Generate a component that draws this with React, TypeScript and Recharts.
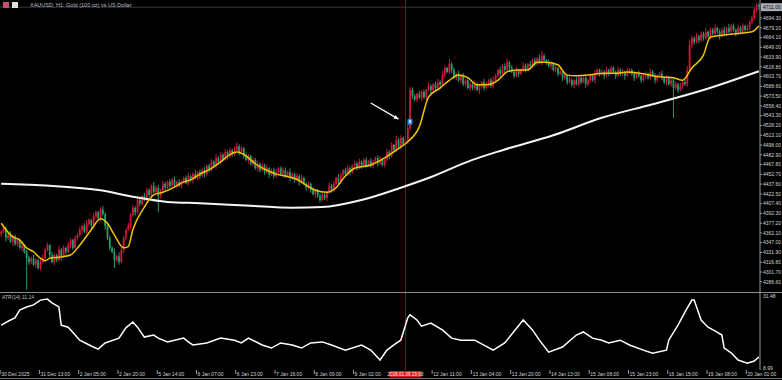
import React from 'react';
import {
  ComposedChart,
  Bar,
  Line,
  XAxis,
  YAxis,
  ReferenceLine,
  ReferenceDot
} from 'recharts';

// hourly closes, XAUUSD H1
const closes = [
  4364, 4370, 4354, 4359, 4348, 4357, 4345, 4351, 4339, 4343, 4333, 4323, 4317, 4323, 4313, 4320, 4308, 4317, 4323, 4336,
  4343, 4328, 4317, 4328, 4320, 4336, 4326, 4339, 4333, 4343, 4351, 4339, 4354, 4359, 4367, 4373, 4364, 4376, 4382, 4374,
  4388, 4394, 4385, 4398, 4391, 4373, 4354, 4339, 4333, 4320, 4326, 4317, 4336, 4354, 4367, 4373, 4390, 4401, 4394, 4413,
  4407, 4419, 4413, 4428, 4421, 4435, 4425, 4432, 4419, 4428, 4438, 4432, 4441, 4435, 4444, 4436, 4441, 4435, 4441, 4447,
  4439, 4450, 4444, 4453, 4447, 4456, 4450, 4459, 4453, 4466, 4459, 4472, 4466, 4478, 4472, 4483, 4475, 4487, 4481, 4490,
  4484, 4490, 4496, 4487, 4493, 4481, 4475, 4481, 4469, 4475, 4462, 4469, 4459, 4466, 4456, 4462, 4452, 4459, 4450, 4456,
  4462, 4453, 4459, 4450, 4456, 4447, 4453, 4444, 4450, 4441, 4447, 4438, 4432, 4438, 4428, 4422, 4428, 4419, 4413, 4421,
  4416, 4425, 4435, 4428, 4438, 4447, 4441, 4452, 4459, 4453, 4462, 4456, 4466, 4469, 4462, 4472, 4466, 4475, 4467, 4473,
  4466, 4472, 4478, 4470, 4475, 4467, 4475, 4487, 4481, 4498, 4490, 4506, 4496, 4509, 4500, 4506, 4524, 4583, 4574, 4568,
  4577, 4571, 4580, 4572, 4583, 4589, 4583, 4592, 4586, 4595, 4591, 4606, 4617, 4611, 4623, 4614, 4602, 4608, 4598, 4605,
  4592, 4598, 4586, 4592, 4586, 4592, 4583, 4589, 4595, 4586, 4592, 4598, 4589, 4598, 4605, 4614, 4608, 4620, 4614, 4626,
  4617, 4611, 4605, 4614, 4608, 4614, 4620, 4614, 4623, 4620, 4629, 4623, 4632, 4626, 4636, 4629, 4626, 4620, 4623, 4614,
  4617, 4608, 4611, 4602, 4605, 4595, 4598, 4591, 4598, 4592, 4602, 4595, 4602, 4592, 4598, 4605, 4598, 4608, 4614, 4608,
  4611, 4605, 4614, 4608, 4617, 4611, 4605, 4614, 4608, 4611, 4605, 4611, 4614, 4608, 4602, 4608, 4605, 4598, 4605, 4608,
  4602, 4611, 4605, 4598, 4605, 4608, 4602, 4595, 4602, 4592, 4598, 4586, 4592, 4583, 4589, 4595, 4592, 4614, 4653, 4663,
  4657, 4666, 4660, 4670, 4663, 4673, 4666, 4676, 4670, 4679, 4673, 4666, 4676, 4670, 4679, 4673, 4682, 4676, 4670, 4679,
  4673, 4682, 4676, 4679, 4688, 4694, 4707, 4714, 4711
];
const firstOpen = 4360;

// wick length above / below the body, in dollars
const upperWick = [
  3, 5, 2, 4, 6, 3, 2, 5, 3, 4, 2, 3, 4, 2, 5, 3, 2, 4, 6, 3,
  4, 2, 5, 3, 2, 6, 3, 4, 2, 5, 3, 2, 4, 3, 5, 2, 4, 6, 3, 2,
  5, 3, 2, 4, 6, 3, 2, 4, 3, 5, 2, 6, 3, 4, 2, 5, 3, 4, 2, 6,
  3, 2, 5, 4, 3, 2, 6, 3, 4, 2, 5, 3, 2, 4, 3, 5, 2, 4, 3, 2,
  4, 5, 2, 3, 6, 2, 4, 3, 5, 2, 3, 4, 2, 6, 3, 4, 2, 5, 3, 4,
  2, 5, 6, 3, 4, 2, 5, 3, 2, 4, 3, 5, 2, 4, 3, 6, 2, 3, 4, 5,
  2, 3, 5, 4, 2, 6, 3, 2, 4, 3, 5, 2, 3, 4, 2, 5, 3, 2, 4, 6,
  3, 2, 5, 3, 4, 2, 6, 3, 2, 4, 5, 3, 2, 4, 3, 5, 2, 3, 4, 2,
  5, 3, 2, 4, 6, 3, 2, 5, 3, 4, 2, 6, 3, 4, 2, 5, 8, 5, 4, 3,
  2, 5, 3, 4, 2, 6, 3, 2, 4, 5, 3, 6, 4, 2, 8, 3, 4, 2, 5, 3,
  4, 2, 5, 3, 2, 6, 3, 4, 2, 5, 3, 2, 4, 6, 3, 2, 5, 3, 4, 6,
  2, 4, 3, 5, 2, 3, 6, 4, 2, 5, 3, 4, 2, 6, 7, 3, 2, 4, 5, 3,
  4, 2, 5, 3, 4, 2, 6, 3, 2, 5, 3, 4, 2, 5, 3, 4, 2, 6, 3, 2,
  4, 3, 5, 2, 4, 3, 2, 5, 3, 4, 2, 6, 3, 2, 4, 3, 5, 2, 3, 4,
  2, 5, 3, 4, 2, 3, 5, 2, 4, 3, 6, 3, 4, 2, 5, 3, 4, 6, 8, 4,
  3, 5, 2, 4, 3, 6, 2, 4, 3, 5, 2, 4, 3, 5, 2, 6, 3, 4, 2, 5,
  3, 4, 2, 5, 3, 4, 4, 3, 3
];
const lowerWick = [
  4, 2, 5, 3, 2, 6, 3, 4, 2, 5, 3, 49, 4, 3, 2, 5, 3, 4, 2, 6,
  3, 4, 2, 5, 3, 2, 6, 3, 4, 2, 5, 3, 2, 4, 3, 5, 2, 4, 3, 5,
  2, 4, 3, 5, 2, 6, 3, 4, 2, 12, 3, 4, 2, 5, 3, 2, 4, 3, 5, 2,
  4, 3, 2, 5, 3, 4, 2, 3, 25, 4, 2, 5, 3, 4, 2, 3, 5, 2, 4, 3,
  2, 4, 3, 5, 2, 3, 4, 2, 5, 3, 4, 2, 3, 5, 2, 4, 3, 2, 5, 3,
  4, 3, 2, 5, 3, 4, 2, 6, 3, 4, 2, 5, 3, 2, 4, 3, 5, 2, 4, 3,
  5, 2, 4, 3, 2, 5, 3, 4, 2, 6, 3, 2, 5, 3, 4, 2, 6, 3, 4, 2,
  3, 5, 2, 4, 3, 2, 5, 3, 4, 2, 3, 5, 2, 4, 3, 2, 5, 3, 4, 2,
  3, 4, 2, 5, 3, 2, 4, 3, 5, 2, 4, 3, 2, 5, 3, 4, 6, 4, 5, 3,
  4, 2, 5, 3, 4, 2, 6, 3, 4, 2, 5, 3, 4, 2, 3, 5, 2, 4, 3, 5,
  3, 4, 2, 5, 3, 4, 2, 6, 3, 4, 2, 5, 3, 4, 2, 3, 5, 2, 4, 3,
  5, 2, 4, 3, 5, 2, 3, 4, 2, 5, 3, 4, 2, 3, 5, 2, 4, 3, 5, 2,
  3, 4, 2, 5, 3, 4, 2, 3, 5, 2, 4, 3, 2, 5, 3, 4, 2, 5, 3, 4,
  2, 5, 3, 4, 2, 3, 5, 2, 4, 3, 6, 2, 4, 3, 5, 2, 3, 4, 2, 5,
  3, 4, 2, 5, 3, 2, 4, 3, 5, 2, 4, 46, 3, 4, 2, 5, 3, 4, 3, 5,
  4, 2, 5, 3, 4, 2, 3, 5, 2, 4, 3, 5, 2, 4, 3, 2, 5, 3, 4, 2,
  4, 3, 5, 2, 4, 3, 3, 4, 4
];

// yellow (fast) moving average, read at these bars
const fastMaBars = [
  0, 5, 8, 11, 14, 17, 19, 21, 26, 30, 34, 39, 43, 46, 49, 53, 55, 57, 62, 66,
  70, 75, 79, 82, 86, 91, 95, 99, 102, 106, 110, 115, 119, 123, 128, 132, 136, 141, 145, 149,
  153, 160, 166, 173, 176, 181, 185, 190, 194, 198, 202, 206, 210, 215, 219, 223, 228, 232, 236, 241,
  245, 249, 254, 258, 262, 267, 271, 278, 282, 286, 291, 295, 299, 304, 307, 313, 321, 325, 328
];
const fastMaValues = [
  4377, 4356, 4351, 4339, 4333, 4323, 4319, 4323, 4325, 4328, 4343, 4367, 4384, 4377, 4359, 4339, 4341, 4367, 4402, 4421,
  4425, 4433, 4441, 4444, 4453, 4462, 4472, 4483, 4487, 4481, 4469, 4459, 4453, 4450, 4445, 4436, 4428, 4425, 4432, 4450,
  4462, 4467, 4478, 4495, 4503, 4526, 4572, 4586, 4598, 4606, 4602, 4591, 4591, 4598, 4611, 4614, 4614, 4626, 4626, 4622,
  4606, 4605, 4606, 4608, 4609, 4609, 4611, 4608, 4605, 4603, 4602, 4598, 4617, 4637, 4665, 4668, 4671, 4673, 4682
];

// white (slow) moving average
const slowMaBars = [0, 21, 43, 57, 72, 86, 108, 126, 139, 156, 173, 185, 204, 217, 239, 260, 282, 304, 328];
const slowMaValues = [4438, 4435, 4428, 4418, 4410, 4408, 4404, 4401, 4402, 4413, 4432, 4447, 4475, 4490, 4513, 4540, 4561, 4583, 4612];

// ATR(14)
const atrBars = [
  0, 4, 6, 8, 11, 14, 17, 20, 22, 25, 26, 29, 31, 34, 39, 42, 45, 51, 54, 57,
  59, 62, 66, 68, 72, 79, 81, 83, 89, 95, 101, 104, 107, 113, 117, 121, 126, 130, 134, 139,
  143, 149, 156, 160, 164, 167, 170, 173, 176, 177, 180, 182, 186, 191, 195, 199, 205, 213, 218, 226,
  230, 233, 237, 243, 249, 252, 256, 260, 263, 268, 272, 278, 282, 288, 289, 293, 296, 299, 300, 303,
  306, 309, 312, 313, 316, 319, 323, 326, 328
];
const atrValues = [
  22.1, 23.6, 24.2, 26.5, 27.4, 28.0, 29.4, 29.7, 28.6, 27.4, 22.1, 21.5, 20.0, 17.7, 16.0, 15.1, 16.9, 18.3, 21.3, 23.0,
  21.5, 18.6, 19.2, 18.3, 17.2, 18.3, 17.2, 16.3, 16.9, 18.3, 17.7, 16.9, 18.3, 16.3, 15.4, 16.9, 16.3, 15.4, 16.9, 17.2,
  16.3, 14.8, 16.3, 14.8, 11.9, 14.8, 16.3, 17.7, 24.2, 25.1, 23.6, 21.8, 22.7, 20.7, 18.3, 17.7, 17.7, 14.8, 16.9, 23.6,
  20.7, 17.7, 14.2, 15.7, 19.2, 20.1, 18.3, 17.7, 16.9, 17.7, 16.3, 14.8, 13.9, 14.8, 17.7, 22.1, 25.9, 29.4, 29.4, 23.6,
  21.5, 20.4, 19.2, 15.4, 14.0, 11.9, 11.0, 11.6, 12.8
];

const priceTicks = [
  4286.6, 4301.7, 4316.8, 4331.9, 4347.0, 4362.1, 4377.2, 4392.3, 4407.4, 4422.5, 4437.6, 4452.7, 4467.8, 4482.9,
  4498.0, 4513.1, 4528.2, 4543.3, 4558.4, 4573.5, 4588.6, 4603.7, 4618.8, 4633.9, 4649.0, 4664.1, 4679.2, 4694.3
];

const timeTickBars = [0, 17, 34, 51, 68, 85, 102, 119, 136, 153, 175, 187, 204, 221, 238, 255, 272, 289, 306, 323];
const timeTickLabels = [
  '30 Dec 2025', '31 Dec 13:00', '2 Jan 05:00', '2 Jan 20:00', '5 Jan 14:00', '6 Jan 07:00', '6 Jan 23:00',
  '7 Jan 16:00', '8 Jan 09:00', '9 Jan 02:00', '2026.01.09 23:00', '12 Jan 11:00', '13 Jan 04:00', '13 Jan 20:00',
  '14 Jan 13:00', '15 Jan 06:00', '15 Jan 23:00', '16 Jan 15:00', '19 Jan 08:00', '20 Jan 01:00'
];

const cursorBar = 175;
const arrowStart = { bar: 160, price: 4563 };
const arrowEnd = { bar: 172, price: 4538 };
const markerBar = 177;
const markerPrice = 4534;

const W = 782;
const PLOT_W = 760;
const MAIN_H = 292;
const SUB_H = 88;
const RED = '#d3143d';
const GREEN = '#1f9f6c';
const TXT = '#cfd2d6';
const FONT = 'Liberation Sans, DejaVu Sans, sans-serif';

const rows = closes.map((close, i) => {
  const open = i === 0 ? firstOpen : closes[i - 1];
  const high = Math.max(open, close) + (upperWick[i] ?? 3);
  const low = Math.min(open, close) - (lowerWick[i] ?? 3);
  return {
    i,
    open,
    close,
    high,
    low,
    range: [low, high],
    ma: null as number | null,
    slow: null as number | null,
    atr: null as number | null
  };
});
fastMaBars.forEach((b, k) => { if (rows[b]) rows[b].ma = fastMaValues[k]; });
slowMaBars.forEach((b, k) => { if (rows[b]) rows[b].slow = slowMaValues[k]; });
atrBars.forEach((b, k) => { if (rows[b]) rows[b].atr = atrValues[k]; });

const lastClose = closes[closes.length - 1];

function Candle(props: any) {
  const { x, y, width, height, payload } = props;
  if (!payload || y == null || height == null) return null;
  const { open, close, high, low } = payload;
  const top = Math.min(y, y + height);
  const h = Math.abs(height);
  const k = h / Math.max(high - low, 0.001);
  const yo = top + (high - open) * k;
  const yc = top + (high - close) * k;
  const cx = x + width / 2;
  const col = close >= open ? RED : GREEN;
  const bTop = Math.min(yo, yc);
  const bH = Math.max(1, Math.abs(yo - yc));
  return (
    <g>
      <line x1={cx} x2={cx} y1={top} y2={top + h} stroke={col} strokeWidth={1} />
      <rect x={cx - 0.9} y={bTop} width={1.8} height={bH} fill={col} />
    </g>
  );
}

function PriceTick(props: any) {
  const { y, payload } = props;
  return (
    <g>
      <line x1={PLOT_W} x2={PLOT_W + 2} y1={y} y2={y} stroke="#9a9a9a" />
      <text x={PLOT_W + 3} y={y + 1.8} fontSize={5} fill={TXT} fontFamily={FONT}>
        {Number(payload.value).toFixed(2)}
      </text>
    </g>
  );
}

function AtrTick(props: any) {
  const { y, payload } = props;
  const top = payload.value > 20;
  return (
    <text x={PLOT_W + 3} y={top ? y + 4.5 : y - 0.5} fontSize={5} fill={TXT} fontFamily={FONT}>
      {Number(payload.value).toFixed(2)}
    </text>
  );
}

// the bottom axis sits under the ATR pane: labels go on a fixed row
const LABEL_BASE = SUB_H - 4;

function TimeTick(props: any) {
  const { x, payload } = props;
  const idx = timeTickBars.indexOf(payload.value);
  const label = timeTickLabels[idx] ?? '';
  if (payload.value === cursorBar) {
    return (
      <g>
        <rect x={x - 16} y={LABEL_BASE - 5} width={32} height={6.5} fill="#e0141c" />
        <text x={x} y={LABEL_BASE} fontSize={4.6} fill="#ffffff" textAnchor="middle" fontFamily={FONT}>
          {label}
        </text>
      </g>
    );
  }
  return (
    <g>
      <line x1={x - 1} x2={x - 1} y1={LABEL_BASE - 6} y2={LABEL_BASE - 2} stroke="#9a9a9a" />
      <text x={x} y={LABEL_BASE} fontSize={5} fill={TXT} fontFamily={FONT}>
        {label}
      </text>
    </g>
  );
}

function Arrow(props: any) {
  const { x1, y1, x2, y2 } = props;
  if (x1 == null) return null;
  const a = Math.atan2(y2 - y1, x2 - x1);
  const L = 5;
  const p1 = [x2 - L * Math.cos(a - 0.45), y2 - L * Math.sin(a - 0.45)];
  const p2 = [x2 - L * Math.cos(a + 0.45), y2 - L * Math.sin(a + 0.45)];
  return (
    <g>
      <line x1={x1} y1={y1} x2={x2} y2={y2} stroke="#ffffff" strokeWidth={1.2} />
      <polygon points={`${x2},${y2} ${p1[0]},${p1[1]} ${p2[0]},${p2[1]}`} fill="#ffffff" />
    </g>
  );
}

function Marker(props: any) {
  const { cx, cy } = props;
  if (cx == null) return null;
  return (
    <g>
      <rect x={cx - 2.5} y={cy - 3} width={5} height={6} rx={1} fill="#2f86e0" />
      <rect x={cx - 1} y={cy - 1.5} width={2} height={2.5} fill="#d8ecff" />
    </g>
  );
}

function PriceTag(props: any) {
  const vb = props.viewBox || {};
  const y = vb.y ?? 0;
  return (
    <g>
      <rect x={PLOT_W + 1} y={y - 4} width={W - PLOT_W - 1} height={8} fill="#a7abb2" />
      <text x={PLOT_W + 3} y={y + 1.8} fontSize={5} fill="#111" fontFamily={FONT}>
        {lastClose.toFixed(2)}
      </text>
    </g>
  );
}

export default function App() {
  return (
    <div
      style={{
        position: 'absolute',
        left: 0,
        top: 0,
        width: W,
        height: 380,
        background: '#000',
        overflow: 'hidden',
        fontFamily: FONT
      }}
    >
      <div style={{ position: 'absolute', left: 0, top: 0 }}>
        <ComposedChart
          width={W}
          height={MAIN_H}
          data={rows}
          margin={{ top: 0, right: 0, bottom: 0, left: 0 }}
          barCategoryGap="10%"
        >
          <XAxis dataKey="i" type="category" scale="band" hide />
          <YAxis
            orientation="right"
            width={W - PLOT_W}
            domain={[4270.8, 4722.1]}
            ticks={priceTicks}
            interval={0}
            allowDataOverflow
            axisLine={{ stroke: '#9a9a9a' }}
            tickLine={false}
            tick={PriceTick}
          />
          <ReferenceLine y={lastClose} stroke="#343a46" label={{ content: PriceTag }} />
          <ReferenceLine x={cursorBar} stroke="#86171a" />
          <Bar dataKey="range" shape={Candle} isAnimationActive={false} />
          <Line
            dataKey="slow"
            type="monotone"
            stroke="#f4f4f4"
            strokeWidth={2}
            dot={false}
            activeDot={false}
            connectNulls
            isAnimationActive={false}
          />
          <Line
            dataKey="ma"
            type="monotone"
            stroke="#f2c300"
            strokeWidth={1.5}
            dot={false}
            activeDot={false}
            connectNulls
            isAnimationActive={false}
          />
          <ReferenceLine
            segment={[
              { x: arrowStart.bar, y: arrowStart.price },
              { x: arrowEnd.bar, y: arrowEnd.price }
            ]}
            shape={Arrow}
          />
          <ReferenceDot x={markerBar} y={markerPrice} shape={Marker} />
        </ComposedChart>
      </div>

      <div style={{ position: 'absolute', left: 0, top: MAIN_H }}>
        <ComposedChart width={W} height={SUB_H} data={rows} margin={{ top: 1, right: 0, bottom: 0, left: 0 }}>
          <XAxis
            dataKey="i"
            type="category"
            scale="band"
            ticks={timeTickBars}
            interval={0}
            height={10}
            axisLine={false}
            tickLine={false}
            tick={TimeTick}
          />
          <YAxis
            orientation="right"
            width={W - PLOT_W}
            domain={[8.99, 31.48]}
            ticks={[31.48, 8.99]}
            interval={0}
            allowDataOverflow
            axisLine={{ stroke: '#9a9a9a' }}
            tickLine={false}
            tick={AtrTick}
          />
          <ReferenceLine x={cursorBar} stroke="#86171a" />
          <Line
            dataKey="atr"
            type="linear"
            stroke="#ffffff"
            strokeWidth={1.5}
            dot={false}
            activeDot={false}
            connectNulls
            isAnimationActive={false}
          />
        </ComposedChart>
      </div>

      {/* pane separator and bottom border */}
      <div style={{ position: 'absolute', left: 0, top: MAIN_H, width: W, height: 1, background: '#8e8e8e' }} />
      <div style={{ position: 'absolute', left: 0, top: 378, width: W, height: 1, background: '#6a6a6a' }} />

      <div style={{ position: 'absolute', left: 3, top: 2, width: 6, height: 6, background: '#c94f6d' }} />
      <div style={{ position: 'absolute', left: 12, top: 2, width: 6, height: 6, background: '#e2e2e2' }} />
      <div
        style={{
          position: 'absolute',
          left: 30,
          top: 1,
          fontSize: 5.5,
          color: '#b9bcc2',
          whiteSpace: 'nowrap',
          lineHeight: '8px'
        }}
      >
        XAUUSD, H1:  Gold (100 oz) vs US Dollar
      </div>
      <div
        style={{
          position: 'absolute',
          left: 2,
          top: MAIN_H + 2,
          fontSize: 5,
          color: '#b9bcc2',
          whiteSpace: 'nowrap',
          lineHeight: '7px'
        }}
      >
        ATR(14) 11.14
      </div>
    </div>
  );
}
